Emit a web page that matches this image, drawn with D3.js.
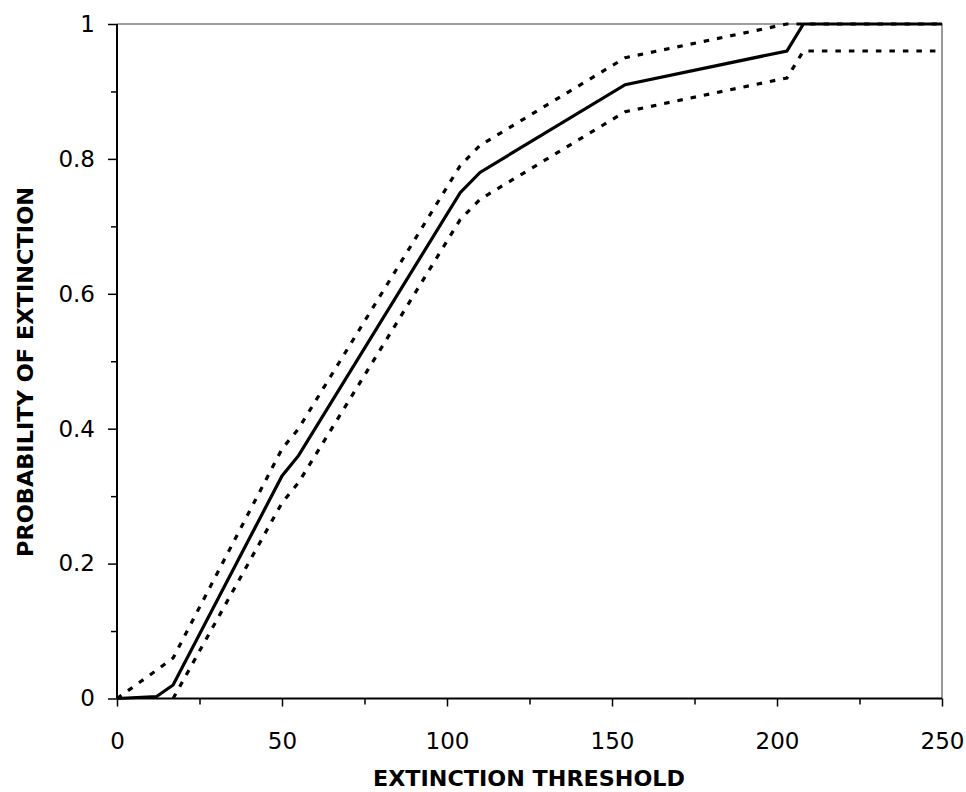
<!DOCTYPE html>
<html>
<head>
<meta charset="utf-8">
<script src="https://cdn.jsdelivr.net/npm/d3@7"></script>
<style>
  body { margin: 0; background: #fff; }
  .tick text { font-family: "DejaVu Sans", sans-serif; font-size: 23px; fill: #000; }
  .axis-title { font-family: "DejaVu Sans", sans-serif; font-weight: bold; font-size: 22px; }
</style>
</head>
<body>
<div class="chart"></div>
<script>
// extinction threshold (x) and probability of extinction: mean + upper/lower bounds
const thresholds = [0, 12, 17, 50, 55, 104, 110, 154, 203, 208, 250];
const meanProb   = [0, 0.003, 0.02, 0.33, 0.36, 0.75, 0.78, 0.91, 0.96, 1.0, 1.0];
const upperProb  = [0, 0.042, 0.06, 0.37, 0.40, 0.79, 0.82, 0.95, 1.0, 1.0, 1.0];
const lowerProb  = [null, null, 0, 0.29, 0.32, 0.71, 0.74, 0.87, 0.92, 0.96, 0.96];

const xMajor = [0, 50, 100, 150, 200, 250];
const xMinor = [25, 75, 125, 175, 225];
const yMajor = [0, 0.2, 0.4, 0.6, 0.8, 1];
const yMinor = [0.1, 0.3, 0.5, 0.7, 0.9];

const W = 966, H = 792;
const margin = { top: 24, right: 24, bottom: 93.5, left: 117 };
const width = W - margin.left - margin.right,
    height = H - margin.top - margin.bottom;

const svg = d3.select(".chart")
    .append("svg")
    .attr("width", W)
    .attr("height", H);

const g = svg.append("g").attr("transform", `translate(${margin.left},${margin.top})`);

const x = d3.scaleLinear().domain([0, 250]).range([0, width]);
const y = d3.scaleLinear().domain([0, 1]).range([height, 0]);

// grey frame on top and right
g.append("path")
    .attr("d", `M0,0H${width}V${height}`)
    .attr("fill", "none")
    .attr("stroke", "#808080")
    .attr("stroke-width", 1.6);

// minor ticks
g.append("g")
    .attr("transform", `translate(0,${height})`)
    .call(d3.axisBottom(x).tickValues(xMinor).tickSize(6).tickFormat(""))
    .call(g => g.select(".domain").remove());
g.append("g")
    .call(d3.axisLeft(y).tickValues(yMinor).tickSize(6).tickFormat(""))
    .call(g => g.select(".domain").remove());

// major ticks + labels
g.append("g")
    .attr("transform", `translate(0,${height})`)
    .call(d3.axisBottom(x).tickValues(xMajor).tickSize(8).tickPadding(26).tickFormat(d3.format("d")))
    .call(g => g.select(".domain").attr("d", `M0,0H${width}`).attr("stroke-width", 2));
g.append("g")
    .call(d3.axisLeft(y).tickValues(yMajor).tickSize(9).tickPadding(13).tickFormat(d => d === 0 || d === 1 ? d3.format("d")(d) : d3.format(".1f")(d)))
    .call(g => g.select(".domain").attr("d", `M0,${height}V0`).attr("stroke-width", 2));

g.selectAll(".tick line").attr("stroke", "#000").attr("stroke-width", 1.5);

const line = d3.line()
    .defined(d => d[1] !== null)
    .x(d => x(d[0]))
    .y(d => y(d[1]));

const series = [
    { values: upperProb, dash: "5.5,8" },
    { values: lowerProb, dash: "5.5,8" },
    { values: meanProb, dash: null }
];

series.forEach(s => {
    g.append("path")
        .datum(thresholds.map((t, i) => [t, s.values[i]]))
        .attr("fill", "none")
        .attr("stroke", "#000")
        .attr("stroke-width", 3.2)
        .attr("stroke-linejoin", "miter")
        .attr("stroke-dasharray", s.dash)
        .attr("d", line);
});

// axis titles
svg.append("text")
    .attr("class", "axis-title")
    .attr("x", 529)
    .attr("y", 786)
    .attr("text-anchor", "middle")
    .attr("textLength", 312)
    .attr("lengthAdjust", "spacingAndGlyphs")
    .text("EXTINCTION THRESHOLD");

svg.append("text")
    .attr("class", "axis-title")
    .attr("transform", "translate(33,372) rotate(-90)")
    .attr("text-anchor", "middle")
    .attr("textLength", 370)
    .attr("lengthAdjust", "spacingAndGlyphs")
    .text("PROBABILITY OF EXTINCTION");
</script>
</body>
</html>
